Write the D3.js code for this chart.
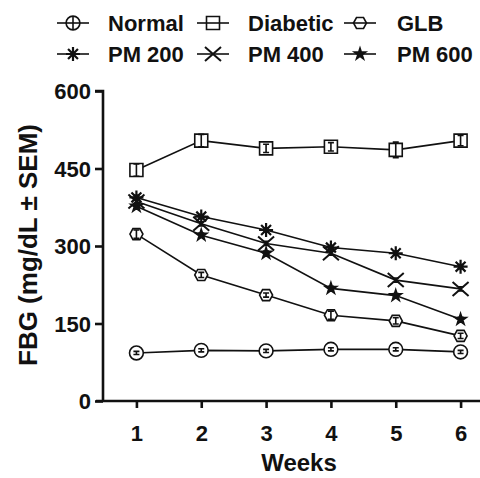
<!DOCTYPE html>
<html lang="en">
<head>
<meta charset="utf-8">
<title>FBG over weeks</title>
<script src="https://d3js.org/d3.v7.min.js"></script>
<style>
  body { margin: 0; background: #fff; }
  text { font-family: "Liberation Sans", Arial, sans-serif; font-weight: bold; fill: #111; }
</style>
</head>
<body>
<div id="chart"></div>
<script>
// Data
const weeks = [1, 2, 3, 4, 5, 6];
const seriesNames = ["Normal", "Diabetic", "GLB", "PM 200", "PM 400", "PM 600"];
const normal   = [93, 98, 97, 100, 100, 95];
const diabetic = [447, 504, 489, 492, 486, 504];
const glb      = [323, 244, 205, 166, 155, 126];
const pm200    = [394, 357, 331, 297, 286, 260];
const pm400    = [386, 343, 305, 286, 234, 217];
const pm600    = [377, 321, 286, 218, 204, 158];
const semNormal   = [3, 3, 3, 3, 3, 3];
const semDiabetic = [12, 12, 8, 8, 15, 10];
const semGlb      = [8, 5, 4, 8, 6, 5];
const semPm       = [4, 4, 4, 4, 4, 4];
const yTicks = [0, 150, 300, 450, 600];

const series = [
  { name: seriesNames[0], values: normal,   sem: semNormal,   sym: "circle" },
  { name: seriesNames[1], values: diabetic, sem: semDiabetic, sym: "square" },
  { name: seriesNames[2], values: glb,      sem: semGlb,      sym: "hexagon" },
  { name: seriesNames[3], values: pm200,    sem: semPm,       sym: "asterisk" },
  { name: seriesNames[4], values: pm400,    sem: semPm,       sym: "times" },
  { name: seriesNames[5], values: pm600,    sem: semPm,       sym: "star" }
];

const W = 480, H = 478;
const svg = d3.select("#chart").append("svg")
  .attr("width", W).attr("height", H);

// Scales
const x = d3.scaleLinear().domain([0.5, 6.5]).range([104, 493]);
const y = d3.scaleLinear().domain([0, 600]).range([401, 91]);

// Marker paths
function markerPath(sym) {
  if (sym === "circle") return d3.symbol(d3.symbolCircle, 150)();
  if (sym === "square") return "M-6.5,-6.5H6.5V6.5H-6.5Z";
  if (sym === "hexagon") return "M-6.5,0L-3.5,-5.5H3.5L6.5,0L3.5,5.5H-3.5Z";
  if (sym === "asterisk") {
    let p = "";
    for (let i = 0; i < 4; i++) {
      const a = i * Math.PI / 4;
      const dx = 7 * Math.sin(a), dy = 7 * Math.cos(a);
      p += `M${-dx},${-dy}L${dx},${dy}`;
    }
    return p;
  }
  if (sym === "times") return "M-8,-7L8,7M-8,7L8,-7";
  if (sym === "star") return d3.symbol(d3.symbolStar, 40)();
}
const filled = s => s === "star";
const openShape = s => s === "circle" || s === "square" || s === "hexagon";

function drawMarker(g, sym, cx, cy, fill) {
  const m = g.append("path")
    .attr("d", markerPath(sym))
    .attr("transform", `translate(${cx},${cy})`)
    .attr("stroke", "#111")
    .attr("stroke-width", sym === "times" ? 2 : 1.6);
  if (filled(sym)) m.attr("fill", "#111");
  else if (openShape(sym)) m.attr("fill", fill);
  else m.attr("fill", "none");
  if (sym === "asterisk") m.attr("stroke-width", 2.2);
  return m;
}

// Axes
const yAxis = svg.append("g")
  .attr("transform", "translate(103,0)")
  .call(d3.axisLeft(y).tickValues(yTicks).tickSize(8).tickPadding(4));
const xAxis = svg.append("g")
  .attr("transform", "translate(0,401)")
  .call(d3.axisBottom(x).tickValues(weeks).tickFormat(d3.format("d")).tickSize(7).tickPadding(17));

[yAxis, xAxis].forEach(a => {
  a.select(".domain").attr("stroke", "#111").attr("stroke-width", 2.6);
  a.selectAll(".tick line").attr("stroke", "#111").attr("stroke-width", 2.6);
  a.selectAll(".tick text").style("font-size", "22px")
    .style("font-family", "'Liberation Sans', Arial, sans-serif")
    .style("font-weight", "bold").attr("fill", "#111");
});
yAxis.select(".domain").attr("d", "M-8,91H0V401");
xAxis.select(".domain").attr("d", "M96,0H480");
yAxis.selectAll(".tick text").attr("dy", "0.36em");

// Axis titles
svg.append("text")
  .attr("transform", "translate(37,245) rotate(-90)")
  .attr("text-anchor", "middle")
  .style("font-size", "26px")
  .text("FBG (mg/dL \u00b1 SEM)");

svg.append("text")
  .attr("x", 299).attr("y", 471)
  .attr("text-anchor", "middle")
  .style("font-size", "24px")
  .text("Weeks");

// Lines, error bars, markers
const line = d3.line().x((d, i) => x(weeks[i])).y(d => y(d));
const plot = svg.append("g");

series.forEach(s => {
  plot.append("path")
    .attr("d", line(s.values))
    .attr("fill", "none")
    .attr("stroke", "#111")
    .attr("stroke-width", 1.6);
});

series.forEach(s => {
  const g = plot.append("g");
  s.values.forEach((v, i) => {
    const cx = x(weeks[i]), cy = y(v);
    drawMarker(g, s.sym, cx, cy, "#fff");
    const y0 = y(v - s.sem[i]), y1 = y(v + s.sem[i]);
    g.append("path")
      .attr("d", `M${cx},${y0}V${y1}M${cx - 3},${y0}H${cx + 3}M${cx - 3},${y1}H${cx + 3}`)
      .attr("stroke", "#111")
      .attr("stroke-width", 1.6)
      .attr("fill", "none");
  });
});

// Legend
const legendCols = [73, 213, 360];
const legendText = [108, 248, 397];
const legendRows = [23, 54];
series.forEach((s, i) => {
  const col = i % 3, row = Math.floor(i / 3);
  const cx = legendCols[col], cy = legendRows[row];
  const g = svg.append("g");
  g.append("line")
    .attr("x1", cx - 16).attr("x2", cx + 16)
    .attr("y1", cy).attr("y2", cy)
    .attr("stroke", "#111").attr("stroke-width", 1.6);
  drawMarker(g, s.sym, cx, cy, "none");
  if (s.sym === "circle") {
    g.append("line")
      .attr("x1", cx).attr("x2", cx)
      .attr("y1", cy - 6).attr("y2", cy + 6)
      .attr("stroke", "#111").attr("stroke-width", 1.6);
  }
  g.append("text")
    .attr("x", legendText[col]).attr("y", cy + 8)
    .style("font-size", "22px")
    .text(s.name);
});
</script>
</body>
</html>
